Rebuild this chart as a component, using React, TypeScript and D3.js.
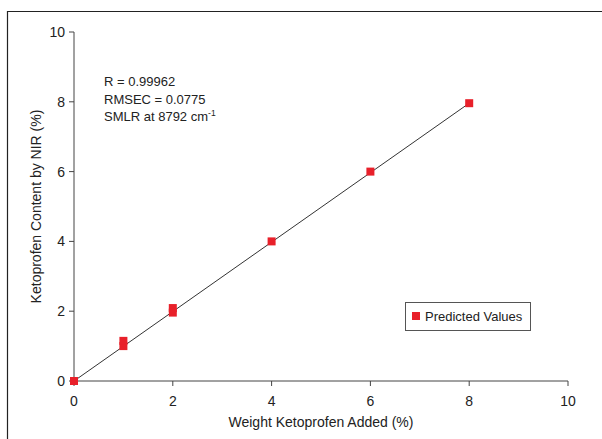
import React from "react";
import * as d3 from "d3";

const pointX = [0, 1, 1, 2, 2, 4, 6, 8];
const pointY = [0, 1.0, 1.15, 1.96, 2.09, 4.0, 6.0, 7.96];
const fitX = [0, 8];
const fitY = [0, 7.96];
const xTicks = [0, 2, 4, 6, 8, 10];
const yTicks = [0, 2, 4, 6, 8, 10];
const statLines = ["R = 0.99962", "RMSEC = 0.0775", "SMLR at 8792 cm"];

const W = 602;
const H = 439;
const font = "'Liberation Sans', Arial, Helvetica, sans-serif";

export default function App() {
  const x = d3.scaleLinear().domain([0, 10]).range([74, 568]);
  const y = d3.scaleLinear().domain([0, 10]).range([381, 32]);
  const line = d3
    .line<number>()
    .x((_, i) => x(fitX[i]))
    .y((d) => y(d));
  const axisColor = "#444";
  const red = "#e8202a";
  const sq = 8;
  return (
    <svg
      width={W}
      height={H}
      style={{ position: "absolute", left: 0, top: 0 }}
      fontFamily={font}
    >
      <rect x={0} y={0} width={W} height={H} fill="#fff" />
      <path d={`M7.5,${H + 2}V11.5H${W + 2}`} fill="none" stroke="#222" strokeWidth={1.2} />
      {/* axes */}
      <line x1={x(0)} x2={x(10)} y1={y(0)} y2={y(0)} stroke={axisColor} strokeWidth={1} />
      <line x1={x(0)} x2={x(0)} y1={y(0)} y2={y(10)} stroke={axisColor} strokeWidth={1} />
      {xTicks.map((t) => (
        <g key={"x" + t}>
          <line x1={x(t)} x2={x(t)} y1={y(0)} y2={y(0) + 5} stroke={axisColor} />
          <text x={x(t)} y={y(0) + 25} textAnchor="middle" fontSize={14} fill="#222">
            {t}
          </text>
        </g>
      ))}
      {yTicks.map((t) => (
        <g key={"y" + t}>
          <line x1={x(0) - 5} x2={x(0)} y1={y(t)} y2={y(t)} stroke={axisColor} />
          <text x={x(0) - 9} y={y(t) + 5} textAnchor="end" fontSize={14} fill="#222">
            {t}
          </text>
        </g>
      ))}
      <text x={(x(0) + x(10)) / 2} y={427} textAnchor="middle" fontSize={14} fill="#222">
        Weight Ketoprofen Added (%)
      </text>
      <text
        transform={`translate(41,${(y(0) + y(10)) / 2}) rotate(-90)`}
        textAnchor="middle"
        fontSize={14}
        fill="#222"
      >
        Ketoprofen Content by NIR (%)
      </text>
      {/* fit line */}
      <path d={line(fitY) || ""} fill="none" stroke="#333" strokeWidth={1} />
      {/* points */}
      {pointX.map((px, i) => (
        <rect
          key={i}
          x={x(px) - sq / 2}
          y={y(pointY[i]) - sq / 2}
          width={sq}
          height={sq}
          fill={red}
        />
      ))}
      {/* stats */}
      {statLines.map((s, i) => (
        <text key={i} x={104} y={86 + i * 17.5} fontSize={13} fill="#222">
          {s}
          {i === 2 ? (
            <tspan dy={-5} fontSize={8.5}>
              -1
            </tspan>
          ) : null}
        </text>
      ))}
      {/* legend */}
      <rect x={405.5} y={302.5} width={125} height={28} fill="#fff" stroke="#555" strokeWidth={1} />
      <rect x={412} y={312} width={8} height={8} fill={red} />
      <text x={425} y={321} fontSize={13} fill="#222">
        Predicted Values
      </text>
    </svg>
  );
}
